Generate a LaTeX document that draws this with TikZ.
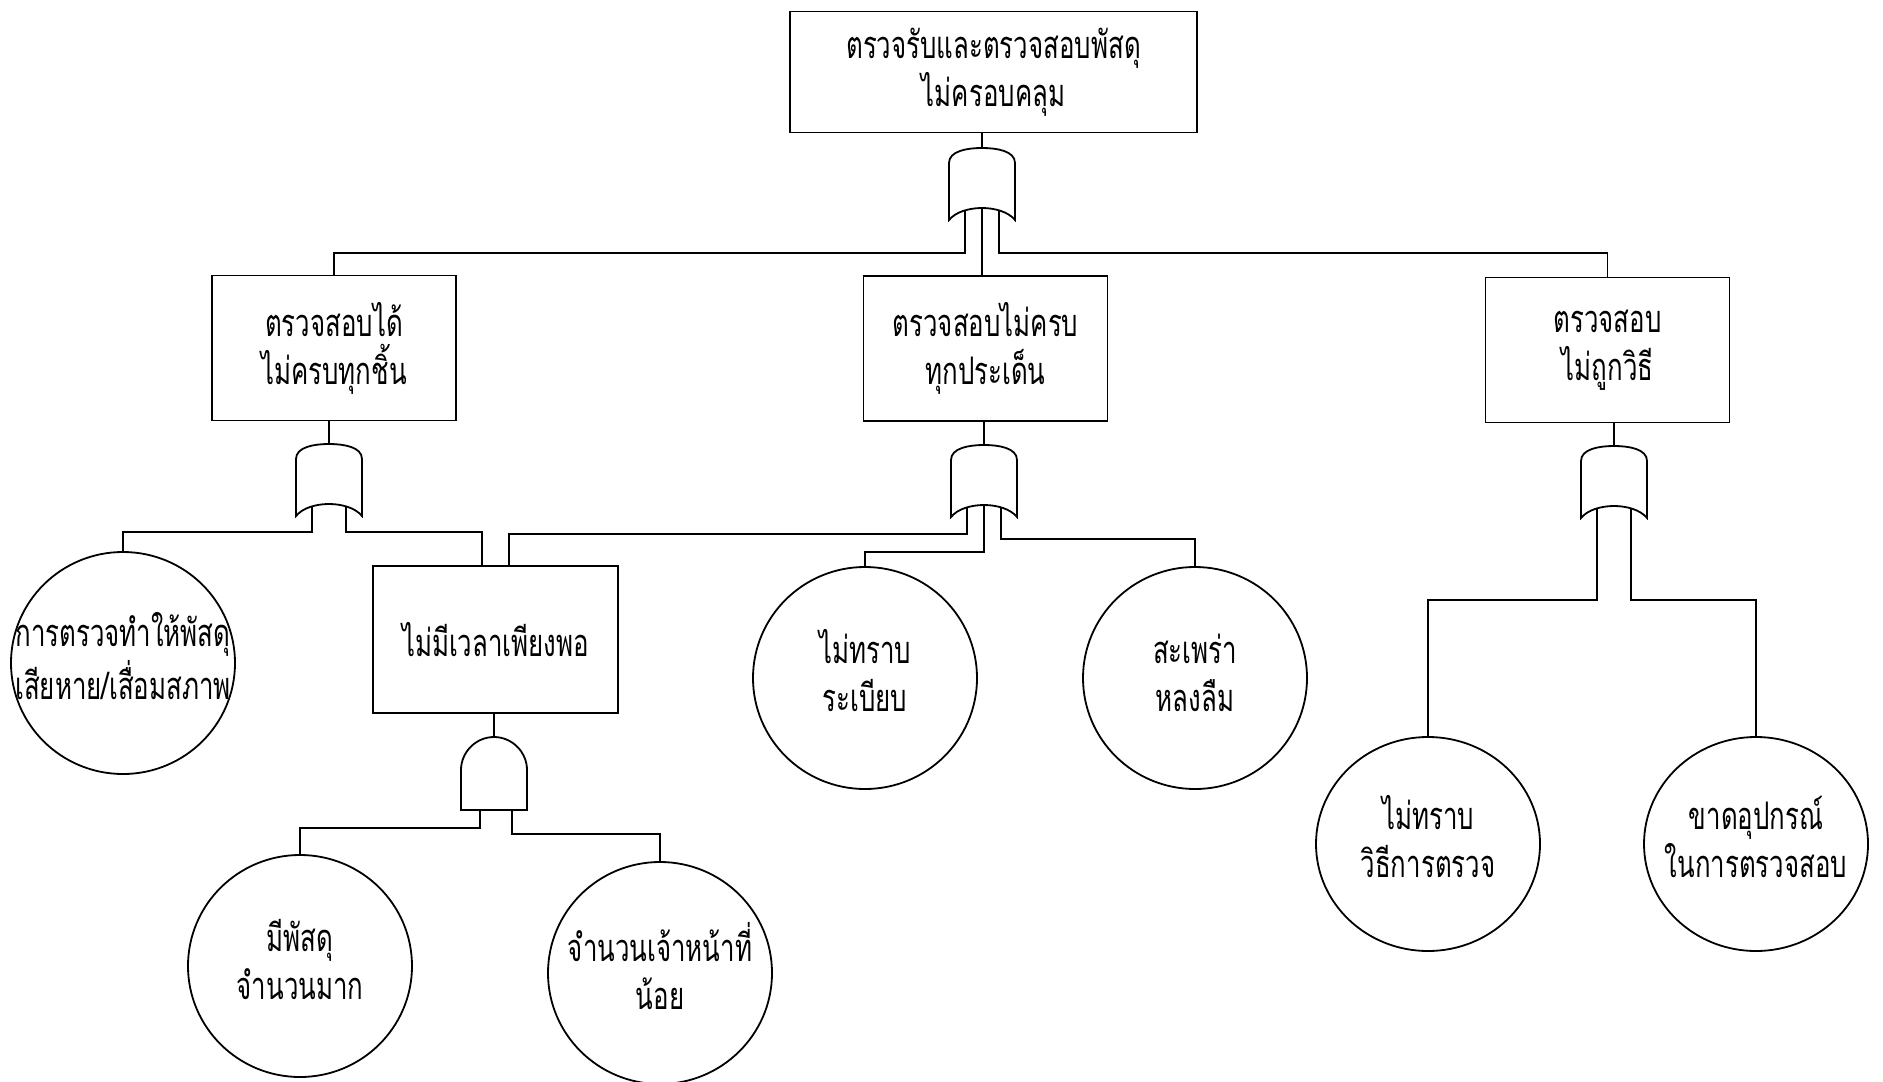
\documentclass[tikz,border=0pt]{standalone}
\usepackage{fontspec}
\newfontfamily\thaifont[Script=Thai,FakeStretch=0.68]{Loma}
\usetikzlibrary{shapes.geometric}
\newcommand{\evtext}[1]{\makebox[0pt]{\begin{tabular}{@{}c@{}}#1\end{tabular}}}

\begin{document}
\begin{tikzpicture}[
    x=0.5pt, y=-0.5pt,
    line width=0.9pt,
    font=\thaifont\fontsize{19}{24}\selectfont,
    event/.style={
      draw, align=center, inner sep=0pt,
      minimum width=122pt, minimum height=72.5pt
    },
    basic/.style={
      draw, ellipse, inner sep=0pt,
      minimum width=112pt, minimum height=111pt
    },
    orgate/.pic={
      \draw (-33,15) .. controls (-33,3) and (-15,0) .. (0,0)
        .. controls (15,0) and (33,3) .. (33,15) -- (33,72)
        .. controls (20,56) and (-20,56) .. (-33,72) -- cycle;
      \coordinate (-in) at (0,0);
      \coordinate (-l) at (-17,62);
      \coordinate (-m) at (0,60);
      \coordinate (-r) at (17,62);
    },
    andgate/.pic={
      \draw (-33,33) .. controls (-33,15) and (-18,0) .. (0,0)
        .. controls (18,0) and (33,15) .. (33,33) -- (33,73)
        -- (-33,73) -- cycle;
      \coordinate (-in) at (0,0);
      \coordinate (-l) at (-14,73);
      \coordinate (-r) at (18,73);
    }
  ]
    \useasboundingbox (0,0) rectangle (1883,1081);

    \node[event, minimum width=203.5pt, minimum height=60.5pt] (top) at (993.5,72) {ตรวจรับและตรวจสอบพัสดุ\\ไม่ครอบคลุม};
    \node[event] (l1) at (334,348) {ตรวจสอบได้\\ไม่ครบทุกชิ้น};
    \node[event] (m1) at (985.5,348.5) {ตรวจสอบไม่ครบ\\ทุกประเด็น};
    \node[event] (r1) at (1607.5,350) {ตรวจสอบ\\ไม่ถูกวิธี};
    \node[event, minimum width=122.5pt, minimum height=73.5pt] (b) at (495.5,639.5) {ไม่มีเวลาเพียงพอ};

    \node[basic] (e1) at (123,663) {\evtext{การตรวจทำให้พัสดุ\\เสียหาย/เสื่อมสภาพ}};
    \node[basic] (c1) at (865,678) {\evtext{ไม่ทราบ\\ระเบียบ}};
    \node[basic] (c2) at (1195,678) {\evtext{สะเพร่า\\หลงลืม}};
    \node[basic, minimum height=107pt] (c3) at (1428,844) {\evtext{ไม่ทราบ\\วิธีการตรวจ}};
    \node[basic, minimum height=107pt] (c4) at (1756,844) {\evtext{ขาดอุปกรณ์\\ในการตรวจสอบ}};
    \node[basic] (d1) at (300,966) {\evtext{มีพัสดุ\\จำนวนมาก}};
    \node[basic] (d2) at (660,973) {\evtext{จำนวนเจ้าหน้าที่\\น้อย}};

    \pic (g0) at (982,148) {orgate};
    \pic (g1) at (329,444) {orgate};
    \pic (g2) at (984,445) {orgate};
    \pic (g3) at (1614,446) {orgate};
    \pic (a1) at (494,737) {andgate};

    \coordinate (bus0) at (0,253);
    \coordinate (bus1) at (0,532);
    \coordinate (bus2l) at (0,534);
    \coordinate (bus2m) at (0,552);
    \coordinate (bus2r) at (0,539);
    \coordinate (bus3) at (0,600);
    \coordinate (bus4l) at (0,828);
    \coordinate (bus4r) at (0,834);

    \draw (top.south -| g0-in) -- (g0-in);
    \draw (g0-l) -- (g0-l |- bus0) -| (l1.north);
    \draw (g0-m) -- (g0-m |- m1.north);
    \draw (g0-r) -- (g0-r |- bus0) -| (r1.north);

    \draw (l1.south -| g1-in) -- (g1-in);
    \draw (g1-l) -- (g1-l |- bus1) -| (e1.north);
    \draw (g1-r) -- (g1-r |- bus1) -| (b.100);

    \draw (m1.south -| g2-in) -- (g2-in);
    \draw (g2-l) -- (g2-l |- bus2l) -| (b.80);
    \draw (g2-m) -- (g2-m |- bus2m) -| (c1.north);
    \draw (g2-r) -- (g2-r |- bus2r) -| (c2.north);

    \draw (r1.south -| g3-in) -- (g3-in);
    \draw (g3-l) -- (g3-l |- bus3) -| (c3.north);
    \draw (g3-r) -- (g3-r |- bus3) -| (c4.north);

    \draw (b.south -| a1-in) -- (a1-in);
    \draw (a1-l) -- (a1-l |- bus4l) -| (d1.north);
    \draw (a1-r) -- (a1-r |- bus4r) -| (d2.north);
  \end{tikzpicture}
\end{document}
